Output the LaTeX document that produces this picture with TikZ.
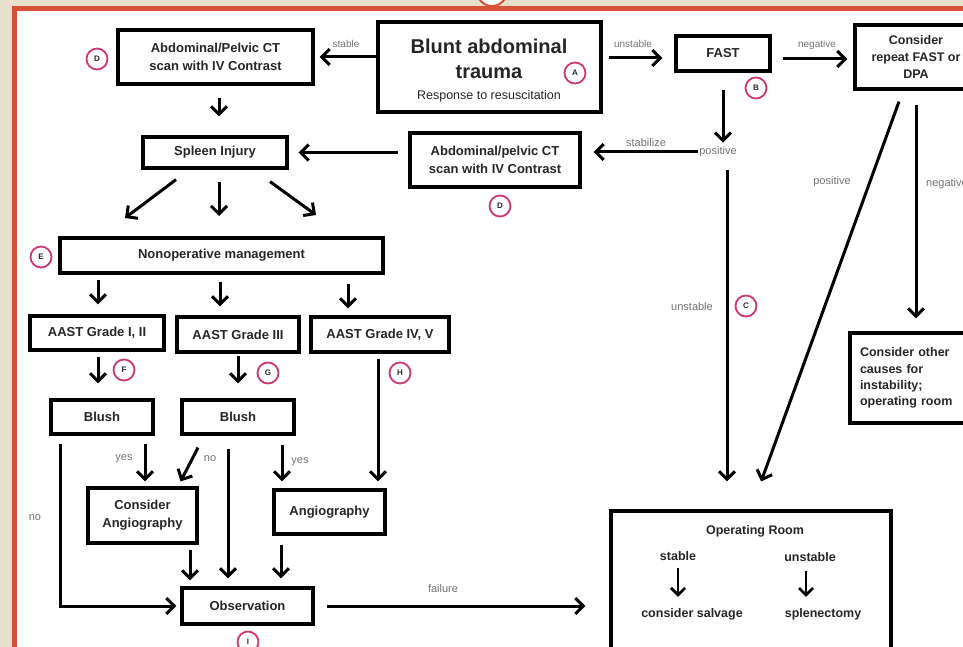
\documentclass[tikz,border=0pt]{standalone}
\usepackage{fontspec}
\setmainfont{Liberation Sans}
\usetikzlibrary{arrows.meta}
\definecolor{beige}{RGB}{232,223,204}
\definecolor{framered}{RGB}{214,82,52}
\definecolor{mag}{RGB}{205,55,115}
\definecolor{txt}{RGB}{38,38,38}
\definecolor{lblc}{RGB}{115,115,115}
\tikzset{
  bx/.style={draw=black, line width=3.2pt, fill=white, align=center, text=txt,
    font=\bfseries\fontsize{13}{17.5}\selectfont, inner sep=2pt},
  circ/.style={circle, draw=mag, line width=1.8pt, fill=white, minimum size=21pt,
    inner sep=0pt, font=\bfseries\fontsize{8}{8}\selectfont, text=txt},
  lab/.style={font=\fontsize{11}{12}\selectfont, text=lblc, inner sep=1pt},
  intext/.style={font=\bfseries\fontsize{12.5}{15}\selectfont, text=txt, inner sep=1pt},
  arr/.style={line width=3pt, -{Straight Barb[length=8pt,width=16pt]}},
  sarr/.style={line width=2.8pt, -{Straight Barb[length=7pt,width=14pt]}},
}
\begin{document}
\begin{tikzpicture}[x=1pt,y=-1pt]
\useasboundingbox (0,0) rectangle (963,647);
\clip (0,0) rectangle (963,647);
% frame
\fill[beige] (0,0) rectangle (963,647);
\draw[framered, line width=2pt, fill=white] (492,-9) circle (15);
\fill[framered] (12,6) rectangle (963,647);
\fill[white] (17,11) rectangle (963,647);

% top row
\node[bx, minimum width=195pt, minimum height=54pt] (D1) at (215.5,57) {Abdominal/Pelvic CT\\scan with IV Contrast};
\node[bx, minimum width=223pt, minimum height=90pt] (A) at (489.5,67) {};
\node[font=\bfseries\fontsize{20}{22}\selectfont, text=txt, inner sep=0pt] (At1) at (489,46) {Blunt abdominal};
\node[font=\bfseries\fontsize{20}{22}\selectfont, text=txt, inner sep=0pt] (At2) at (489,72) {trauma};
\node[font=\fontsize{12.5}{14}\selectfont, text=txt, inner sep=0pt] (At3) at (489,96) {Response to resuscitation};
\node[bx, minimum width=94pt, minimum height=35pt] (FAST) at (723,53.5) {FAST};
\node[bx, minimum width=122pt, minimum height=64pt, font=\bfseries\fontsize{12.5}{17}\selectfont] (RPT) at (916,57) {Consider\\repeat FAST or\\DPA};

% second row
\node[bx, minimum width=170pt, minimum height=54pt] (D2) at (495,160) {Abdominal/pelvic CT\\scan with IV Contrast};
\node[bx, minimum width=144pt, minimum height=31pt] (SPL) at (215,152.5) {Spleen Injury};
\node[lab] (pos) at (718,152) {positive};

% management
\node[bx, minimum width=323pt, minimum height=35pt] (NOM) at (221.5,255.5) {Nonoperative management};
\node[bx, minimum width=134pt, minimum height=34pt] (G12) at (97,333) {AAST Grade I, II};
\node[bx, minimum width=122pt, minimum height=35pt] (G3) at (238,334.5) {AAST Grade III};
\node[bx, minimum width=138pt, minimum height=35pt] (G45) at (380,334.5) {AAST Grade IV, V};
\node[bx, minimum width=102pt, minimum height=34pt] (B1) at (102,417) {Blush};
\node[bx, minimum width=112pt, minimum height=34pt] (B2) at (238,417) {Blush};
\node[bx, minimum width=109pt, minimum height=55pt, font=\bfseries\fontsize{13}{18}\selectfont] (CA) at (142.5,515.5) {Consider\\Angiography};
\node[bx, minimum width=111pt, minimum height=44pt] (ANG) at (329.5,512) {Angiography};
\node[bx, minimum width=131pt, minimum height=36pt] (OBS) at (247.5,606) {Observation};

% right side
\node[bx, minimum width=126pt, minimum height=90pt, text width=106pt, align=left, font=\bfseries\fontsize{12.5}{16.4}\selectfont] (OTH) at (913,378) {Consider other\\causes for\\instability;\\operating room};
\node[bx, minimum width=280pt, minimum height=150pt] (OR) at (751,586) {};
\node[intext] (ORt) at (755,531) {Operating Room};
\node[intext] (ORs) at (678,556) {stable};
\node[intext] (ORu) at (810,557) {unstable};
\node[intext] (ORcs) at (692,614) {consider salvage};
\node[intext] (ORsp) at (823,614) {splenectomy};
\draw[sarr, shorten <=6pt, shorten >=10pt] (ORs.south) -- (ORs.south |- ORcs.north);
\draw[sarr, shorten <=8pt, shorten >=10pt] ([xshift=-4pt]ORu.south) -- ([xshift=-4pt]ORu.south |- ORsp.north);

% circles
\node[circ] (cD1) at (97,59) {D};
\node[circ] (cA) at (575,73) {A};
\node[circ] (cB) at (756,88) {B};
\node[circ] (cD2) at (500,206) {D};
\node[circ] (cE) at (41,257) {E};
\node[circ] (cF) at (124,370) {F};
\node[circ] (cG) at (268,373) {G};
\node[circ] (cH) at (400,373) {H};
\node[circ] (cC) at (746,306) {C};
\node[circ] (cI) at (248,642) {I};

% labels
\node[lab, font=\fontsize{10}{11}\selectfont] (lst) at (346,44) {stable};
\node[lab, font=\fontsize{10}{11}\selectfont] (lun) at (633,44) {unstable};
\node[lab, font=\fontsize{10}{11}\selectfont] (lneg) at (817,45) {negative};
\node[lab] (lstab) at (646,143) {stabilize};
\node[lab] (lunC) at (692,307) {unstable};
\node[lab] (lposR) at (832,182) {positive};
\node[lab] (lnegR) at (947,184) {negative};
\node[lab] (ly1) at (124,459) {yes};
\node[lab] (ln2) at (210,459) {no};
\node[lab] (ly2) at (300,462) {yes};
\node[lab] (ln1) at (35,518) {no};
\node[lab] (lfail) at (443,589) {failure};

% connectors top
\draw[arr, shorten >=5pt] (A.west |- D1) -- (D1.east);
\draw[arr, shorten <=6pt, shorten >=12pt] ([yshift=9pt]A.east) -- ([yshift=9pt]A.east -| FAST.west);
\draw[arr, shorten <=11pt, shorten >=6pt] ([yshift=-5.5pt]FAST.east) -- ([yshift=-5.5pt]FAST.east -| RPT.west);
\draw[arr, shorten <=17pt, shorten >=3pt] (FAST.south) -- (FAST.south |- pos.north);
\draw[arr, shorten >=12pt] (pos.west) -- (pos.west -| D2.east);
\draw[arr, shorten <=10pt, shorten >=10pt] (D2.west |- SPL) -- (SPL.east);
\draw[arr, shorten <=12pt, shorten >=19pt] ([xshift=3.5pt]D1.south) -- ([xshift=3.5pt]D1.south |- SPL.north);

% spleen fan
\coordinate (sp1) at (125,218);
\coordinate (sp2) at (219,216);
\coordinate (sp3) at (316,215);
\draw[arr] ([shift={(-39,10)}]SPL.south) -- (sp1);
\draw[arr] ([shift={(4,12)}]SPL.south) -- (sp2);
\draw[arr] ([shift={(55,12)}]SPL.south) -- (sp3);

% NOM to grades
\draw[arr, shorten <=5pt, shorten >=10pt] ([xshift=1pt]G12.north |- NOM.south) -- ([xshift=1pt]G12.north);
\draw[arr, shorten <=7pt, shorten >=9pt] ([xshift=-18pt]G3.north |- NOM.south) -- ([xshift=-18pt]G3.north);
\draw[arr, shorten <=9pt, shorten >=7pt] ([xshift=-32pt]G45.north |- NOM.south) -- ([xshift=-32pt]G45.north);

% grades to blush
\draw[arr, shorten <=5pt, shorten >=15pt] ([xshift=1pt]G12.south) -- ([xshift=1pt]G12.south |- B1.north);
\draw[arr, shorten <=2pt, shorten >=15pt] (G3.south) -- (G3.south |- B2.north);
\draw[arr, shorten <=5pt, shorten >=7pt] ([xshift=-2pt]G45.south) -- ([xshift=-2pt]G45.south |- ANG.north);

% blush 1
\draw[arr, shorten <=8pt, shorten >=4pt] ([xshift=-42pt]B1.south) -- ([xshift=-42pt]B1.south |- OBS.west) -- (OBS.west);
\draw[arr, shorten <=8pt, shorten >=5pt] ([xshift=43pt]B1.south) -- ([xshift=43pt]B1.south |- CA.north);

% blush 2
\draw[arr] ([shift={(-40,12)}]B2.south) -- ([shift={(-18,-5)}]CA.north east);
\draw[arr, shorten <=13pt, shorten >=8pt] ([xshift=-10pt]B2.south) -- ([xshift=-10pt]B2.south |- OBS.north);
\draw[arr, shorten <=9pt, shorten >=7pt] ([xshift=44pt]B2.south) -- ([xshift=44pt]B2.south |- ANG.north);

% to observation
\draw[arr, shorten <=5pt, shorten >=6pt] ([xshift=47.5pt]CA.south) -- ([xshift=47.5pt]CA.south |- OBS.north);
\draw[arr, shorten <=9pt, shorten >=8pt] ([xshift=-48.5pt]ANG.south) -- ([xshift=-48.5pt]ANG.south |- OBS.north);
\draw[arr, shorten <=12pt, shorten >=24pt] (OBS.east) -- (OBS.east -| OR.west);

% right side
\draw[arr, shorten <=12pt, shorten >=28pt] ([xshift=9pt]pos.south) -- ([xshift=9pt]pos.south |- OR.north);
\draw[arr, shorten <=11.7pt, shorten >=29.7pt] ([xshift=-13pt]RPT.south) -- (OR.north);
\draw[arr, shorten <=14pt, shorten >=13pt] (RPT.south) -- (RPT.south |- OTH.north);
\end{tikzpicture}
\end{document}
